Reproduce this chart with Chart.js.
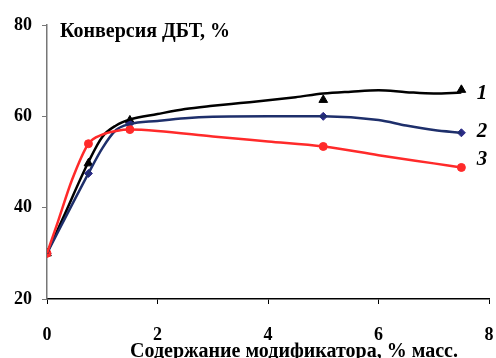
<!DOCTYPE html>
<html>
<head>
<meta charset="utf-8">
<script src="https://cdn.jsdelivr.net/npm/chart.js@4"></script>
<style>
  html, body { margin: 0; padding: 0; background: #fff; }
  #wrap { width: 496px; height: 358px; }
</style>
</head>
<body>
<div id="wrap"><canvas id="myChart" width="496" height="358"></canvas></div>
<script>
// measured points (markers)
var xMarks = [0, 0.75, 1.5, 5, 7.5];
var conv1 = [30, 49.7, 59.1, 63.6, 65.8];
var conv2 = [30, 47.5, 58.4, 60.0, 56.4];
var conv3 = [30, 54.0, 57.1, 53.4, 48.8];

// smoothed curves as drawn in the figure
var curveX1 = [0, 0.3, 0.75, 1.0, 1.25, 1.5, 2, 2.5, 3, 3.5, 4, 4.5, 5, 5.5, 6, 6.5, 7, 7.5];
var curve1 = [30, 38, 50, 55.5, 58, 59.3, 60.5, 61.6, 62.3, 62.9, 63.5, 64.2, 65.0, 65.4, 65.7, 65.3, 65.0, 65.2];
var curveX2 = [0, 0.75, 1.0, 1.25, 1.5, 2, 2.5, 3, 4, 5, 6, 6.5, 7, 7.5];
var curve2 = [30, 47.5, 53, 57, 58.3, 59, 59.6, 59.9, 60, 60, 59.2, 58, 57, 56.4];
var curveX3 = [0, 0.2, 0.45, 0.75, 1.0, 1.25, 1.5, 2, 3, 4, 5, 6, 7, 7.5];
var curve3 = [30, 37, 46, 54, 56, 56.8, 57.1, 56.8, 55.6, 54.5, 53.4, 51.5, 49.7, 48.8];

var xTicks = [0, 2, 4, 6, 8];
var yTicks = [20, 40, 60, 80];

function pts(xs, ys) {
    return xs.map(function(x, i) { return {x: x, y: ys[i]}; });
}

var black = "#000000", navy = "#1e2f6b", navyMark = "#2b2b86", red = "#ff2a2a";

var texts = {
    id: 'texts',
    afterDraw: function(chart) {
        var c = chart.ctx, a = chart.chartArea;
        c.save();
        c.fillStyle = "#000";
        c.textBaseline = "alphabetic";
        c.textAlign = "left";
        c.font = "bold 20px 'Liberation Serif', 'Times New Roman', serif";
        c.fillText("Конверсия ДБТ, %", a.left + 13, 37);
        c.textAlign = "center";
        c.font = "bold 20px 'Liberation Serif', 'Times New Roman', serif";
        c.fillText("Содержание модификатора, % масс.", 294, 357);
        c.font = "italic bold 21px 'Liberation Serif', 'Times New Roman', serif";
        c.fillText("1", 482, 99);
        c.fillText("2", 482, 137);
        c.fillText("3", 482, 165);
        c.restore();
    }
};

var ctx = document.getElementById("myChart");
var myChart = new Chart(ctx, {
    type: 'scatter',
    data: {
        datasets: [
            {data: pts(curveX3, curve3), showLine: true, borderColor: red, borderWidth: 2.5, pointRadius: 0, cubicInterpolationMode: 'monotone'},
            {data: pts(curveX2, curve2), showLine: true, borderColor: navy, borderWidth: 2.5, pointRadius: 0, cubicInterpolationMode: 'monotone'},
            {data: pts(curveX1, curve1), showLine: true, borderColor: black, borderWidth: 2.5, pointRadius: 0, cubicInterpolationMode: 'monotone'},
            {data: pts(xMarks, conv3), showLine: false, pointStyle: 'circle', pointRadius: 4, backgroundColor: red, borderColor: red},
            {data: pts(xMarks, conv2), showLine: false, pointStyle: 'rectRot', pointRadius: 4, backgroundColor: navyMark, borderColor: navyMark},
            {data: pts(xMarks, conv1), showLine: false, pointStyle: 'triangle', pointRadius: 5, backgroundColor: black, borderColor: black}
        ]
    },
    options: {
        responsive: false,
        animation: false,
        layout: { padding: { top: 25, right: 7, left: 0, bottom: 0 } },
        plugins: { legend: { display: false }, tooltip: { enabled: false } },
        scales: {
            x: {
                type: 'linear', min: 0, max: 8,
                afterBuildTicks: function(s) { s.ticks = xTicks.map(function(v) { return {value: v}; }); },
                afterFit: function(s) { s.height = 59; s.paddingLeft = 0; s.paddingRight = 0; },
                grid: { drawOnChartArea: false, drawTicks: true, tickLength: 5, color: "#000" },
                border: { color: "#000", width: 1.5 },
                ticks: { color: "#000", padding: 21, font: { family: "'Liberation Serif', serif", size: 18, weight: 'bold' } }
            },
            y: {
                min: 20, max: 80,
                afterBuildTicks: function(s) { s.ticks = yTicks.map(function(v) { return {value: v}; }); },
                afterFit: function(s) { s.width = 47; s.paddingTop = 0; s.paddingBottom = 0; },
                grid: { drawOnChartArea: false, drawTicks: true, tickLength: 5, color: "#777" },
                border: { color: "#777", width: 1.5 },
                ticks: { color: "#000", padding: 10, font: { family: "'Liberation Serif', serif", size: 18, weight: 'bold' } }
            }
        }
    },
    plugins: [texts]
});
</script>
</body>
</html>
